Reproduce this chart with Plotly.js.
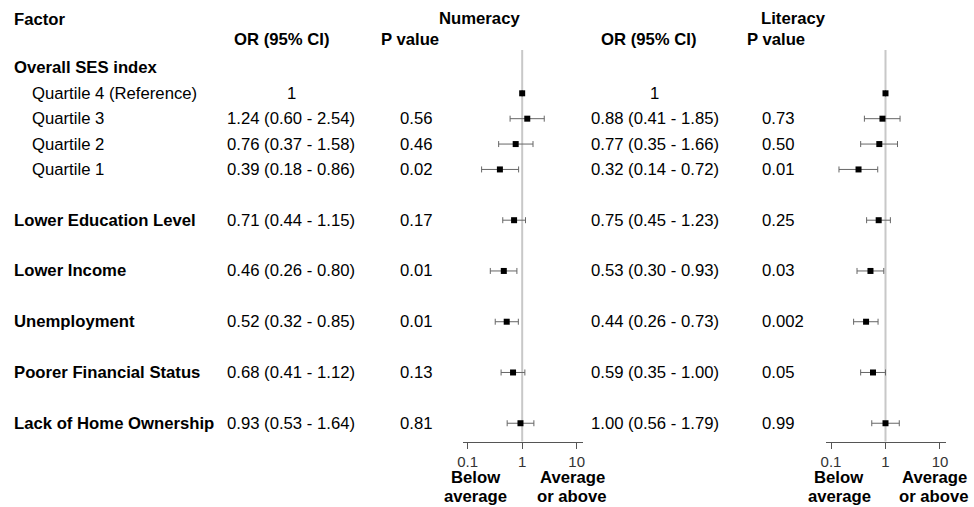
<!DOCTYPE html>
<html><head><meta charset="utf-8">
<script src="https://cdn.plot.ly/plotly-3.0.1.min.js"></script>
<style>html,body{margin:0;padding:0;background:#fff}#chart{width:974px;height:507px}</style>
</head><body><div id="chart"></div>
<script>
const factors = ["Quartile 4 (Reference)", "Quartile 3", "Quartile 2", "Quartile 1", "Lower Education Level", "Lower Income", "Unemployment", "Poorer Financial Status", "Lack of Home Ownership"];
const isSub = [true, true, true, true, false, false, false, false, false];
const groupTitle = "Overall SES index";
const numOR = [1, 1.24, 0.76, 0.39, 0.71, 0.46, 0.52, 0.68, 0.93];
const numLo = [1, 0.60, 0.37, 0.18, 0.44, 0.26, 0.32, 0.41, 0.53];
const numHi = [1, 2.54, 1.58, 0.86, 1.15, 0.80, 0.85, 1.12, 1.64];
const numP  = ["", "0.56", "0.46", "0.02", "0.17", "0.01", "0.01", "0.13", "0.81"];
const litOR = [1, 0.88, 0.77, 0.32, 0.75, 0.53, 0.44, 0.59, 1.00];
const litLo = [1, 0.41, 0.35, 0.14, 0.45, 0.30, 0.26, 0.35, 0.56];
const litHi = [1, 1.85, 1.66, 0.72, 1.23, 0.93, 0.73, 1.00, 1.79];
const litP  = ["", "0.73", "0.50", "0.01", "0.25", "0.03", "0.002", "0.05", "0.99"];
const tickVals = [0.1, 1, 10];
const tickText = ["0.1", "1", "10"];

// layout helpers
const W = 974, H = 507;
const FONT = "Liberation Sans, Arial, sans-serif";
const FS = 16.7;
const px = x => x / W;
const py = y => 1 - y / H;

// row positions: group header row 0, sub rows consecutive, others separated by a blank row
const rows = [];
let r = 0;
isSub.forEach((s) => { r += s ? 1 : 2; rows.push(r); });

const fmt = (o, l, h) => (o === 1 && l === 1 && h === 1) ? "1" : `${o.toFixed(2)} (${l.toFixed(2)} - ${h.toFixed(2)})`;

function ciTrace(or, lo, hi, xa) {
  return {
    type: "scatter", mode: "markers", xaxis: xa, yaxis: "y",
    x: or, y: rows,
    marker: {symbol: "square", size: 6, color: "#000"},
    error_x: {type: "data", symmetric: false,
      array: or.map((v, i) => hi[i] - v), arrayminus: or.map((v, i) => v - lo[i]),
      color: "#666", thickness: 1, width: 3},
    hoverinfo: "skip", showlegend: false, cliponaxis: false
  };
}

const data = [ciTrace(numOR, numLo, numHi, "x"), ciTrace(litOR, litLo, litHi, "x2")];

const ann = [];
const txt = (text, x, y, opts = {}) => ann.push(Object.assign({
  text, x: px(x), y: py(y), xref: "paper", yref: "paper", showarrow: false,
  xanchor: "center", yanchor: "middle",
  font: {family: FONT, size: FS, color: "#000"}
}, opts));
const rowTxt = (text, x, row, opts = {}) => ann.push(Object.assign({
  text, x: px(x), y: row, xref: "paper", yref: "y", showarrow: false,
  xanchor: "center", yanchor: "middle",
  font: {family: FONT, size: FS, color: "#000"}
}, opts));

// headers
txt("<b>Factor</b>", 12, 20, {xanchor: "left"});
txt("<b>Numeracy</b>", 479.5, 19);
txt("<b>Literacy</b>", 793, 19);
txt("<b>OR (95% CI)</b>", 281.5, 40);
txt("<b>P value</b>", 409.5, 40);
txt("<b>OR (95% CI)</b>", 649, 40);
txt("<b>P value</b>", 776, 40);
rowTxt("<b>" + groupTitle + "</b>", 12, 0, {xanchor: "left"});

factors.forEach((f, i) => {
  rowTxt(isSub[i] ? f : "<b>" + f + "</b>", isSub[i] ? 30 : 12, rows[i], {xanchor: "left"});
  rowTxt(fmt(numOR[i], numLo[i], numHi[i]), 291, rows[i]);
  if (numP[i]) rowTxt(numP[i], 398, rows[i], {xanchor: "left"});
  rowTxt(fmt(litOR[i], litLo[i], litHi[i]), 654.5, rows[i]);
  if (litP[i]) rowTxt(litP[i], 760, rows[i], {xanchor: "left"});
});

// below axis labels (one annotation per line for tight spacing)
const lowLab = [["Below", "average"], ["Average", "or above"]];
const labX = [[475.5, 572], [839, 934]];
labX.forEach(pair => pair.forEach((x, k) => {
  txt("<b>" + lowLab[k][0] + "</b>", x, 477.5);
  txt("<b>" + lowLab[k][1] + "</b>", x, 496);
}));

const axBase = {
  type: "log", anchor: "y", showline: true, linecolor: "#555", linewidth: 1,
  ticks: "outside", ticklen: 6, tickcolor: "#555", tickwidth: 1,
  tickvals: tickVals, ticktext: tickText, showgrid: false, zeroline: false,
  tickfont: {family: FONT, size: 15, color: "#333"}, fixedrange: true
};

const yBottom = 441.7, rowTop = 93.3, rowStep = 25.38;
const rowAt = p => 1 + (p - rowTop) / rowStep;

const layout = {
  width: W, height: H, margin: {l: 0, r: 0, t: 0, b: 0},
  paper_bgcolor: "#fff", plot_bgcolor: "rgba(0,0,0,0)",
  xaxis: Object.assign({}, axBase, {domain: [px(463), px(583)], range: [-1.086, 1.116]}),
  xaxis2: Object.assign({}, axBase, {domain: [px(826), px(945.7)], range: [-1.092, 1.105]}),
  yaxis: {domain: [1 - yBottom / H, 1], range: [rowAt(yBottom), rowAt(0)], visible: false, fixedrange: true},
  shapes: ["x", "x2"].map(xr => ({type: "line", xref: xr, yref: "y", x0: 1, x1: 1,
    y0: rowAt(50), y1: rowAt(yBottom), line: {color: "#c8c8c8", width: 2}, layer: "below"})),
  annotations: ann,
  showlegend: false
};

Plotly.newPlot("chart", data, layout, {displayModeBar: false, staticPlot: true});
</script></body></html>
